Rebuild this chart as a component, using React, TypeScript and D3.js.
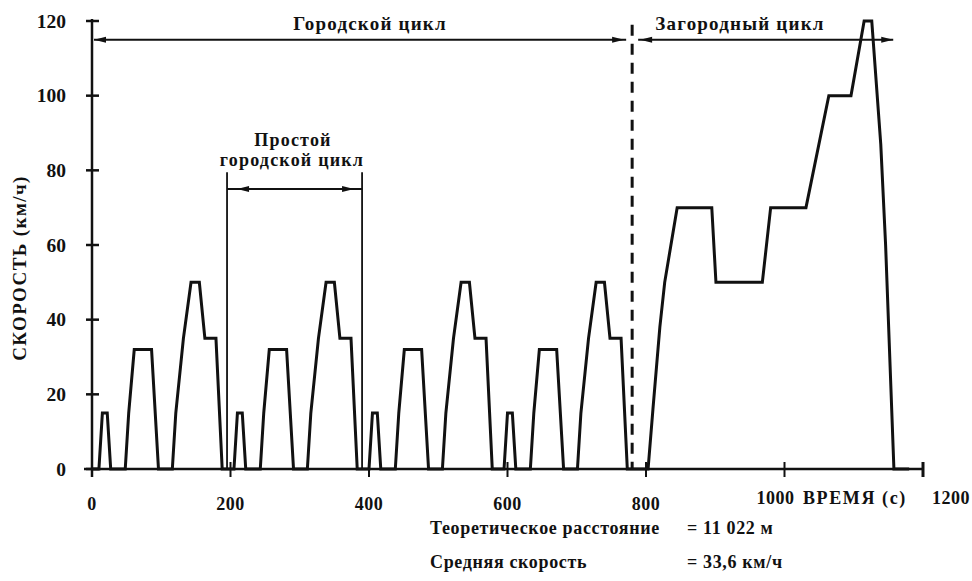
import React from 'react'
import * as d3 from 'd3'

// one urban (ECE-15) cycle: seconds from the cycle start, speed in km/h
const urbanTime = [0, 10, 15, 22, 27, 48, 53, 61, 86, 96, 116, 121, 132, 143, 155, 163, 179, 188, 195]
const urbanSpeed = [0, 0, 15, 15, 0, 0, 15, 32, 32, 0, 0, 15, 35, 50, 50, 35, 35, 0, 0]
const urbanStarts = [0, 195, 390, 585]

// extra-urban part
const extraTime = [780, 803, 810, 820, 827, 845, 895, 901, 968, 980, 1031, 1064, 1096, 1115, 1126, 1139, 1146, 1158, 1180]
const extraSpeed = [0, 0, 16, 38, 50, 70, 70, 50, 50, 70, 70, 100, 100, 120, 120, 87, 60, 0, 0]

const xTicks = [0, 200, 400, 600, 800, 1000, 1200]
const xTickLabels = ['0', '200', '400', '600', '800']
const yTicks = [0, 20, 40, 60, 80, 100, 120]

// annotation values
const cycleSplit = 780
const simpleCycle = [195, 390]
const bracketSpeed = 115
const simpleBracketSpeed = 75

const W = 972
const H = 581
const font = "'Liberation Serif', 'Times New Roman', serif"

const x = d3.scaleLinear().domain([0, 1200]).range([92, 923])
const y = d3.scaleLinear().domain([0, 120]).range([469, 21])

type Pt = [number, number]

const points: Pt[] = []
urbanStarts.forEach(start => {
  urbanTime.forEach((t, i) => points.push([start + t, urbanSpeed[i]]))
})
extraTime.forEach((t, i) => points.push([t, extraSpeed[i]]))

const line = d3.line<Pt>().x(d => x(d[0])).y(d => y(d[1]))

// small filled arrowhead, tip at (tx, ty), dir = 1 points right, -1 left
const head = (tx: number, ty: number, dir: number) => {
  const b = tx - dir * 12
  return `${tx},${ty} ${b},${ty - 3} ${b},${ty + 3}`
}

const App = () => {
  const yTop = y(bracketSpeed)
  const ySimple = y(simpleBracketSpeed)
  const xs = x(cycleSplit)
  const txt = { fontFamily: font, fontWeight: 700, fill: '#111' } as const

  return (
    <svg width={W} height={H} style={{ position: 'absolute', left: 0, top: 0, background: '#fff' }}>
      {/* axes */}
      <g stroke='#111' strokeWidth={2.5} fill='none'>
        <line x1={x(0)} x2={x(0)} y1={y(120) - 2} y2={y(0) + 8} />
        <line x1={x(0) - 8} x2={x(1200)} y1={y(0)} y2={y(0)} />
        {yTicks.map(v => (
          <line key={`yt${v}`} x1={x(0) - 6} x2={x(0) + 7} y1={y(v)} y2={y(v)} />
        ))}
        {xTicks.map(v => (
          <line key={`xt${v}`} x1={x(v)} x2={x(v)} y1={y(0) - 7} y2={y(0) + 8}
            strokeWidth={v === 1200 ? 3 : 2} />
        ))}
      </g>

      {yTicks.map(v => (
        <text key={`yl${v}`} x={66} y={y(v)} dy='0.35em' textAnchor='end'
          fontSize={19.5} {...txt}>{v}</text>
      ))}
      {xTickLabels.map((l, i) => (
        <text key={`xl${l}`} x={x(xTicks[i])} y={510} textAnchor='middle'
          fontSize={18} letterSpacing={0.5} {...txt}>{l}</text>
      ))}
      <text x={x(1000) - 9} y={504} textAnchor='middle' fontSize={18} letterSpacing={0.5} {...txt}>1000</text>
      <text x={803} y={504} fontSize={18} letterSpacing={1.6} {...txt}>ВРЕМЯ (с)</text>
      <text x={970} y={504} textAnchor='end' fontSize={18} letterSpacing={0.5} {...txt}>1200</text>
      <text transform={`translate(19, 268) rotate(-90)`} textAnchor='middle' dy='0.35em'
        fontSize={19} letterSpacing={1.4} {...txt}>СКОРОСТЬ (км/ч)</text>

      {/* cycle split */}
      <line x1={xs} x2={xs} y1={y(119)} y2={y(0)} stroke='#111' strokeWidth={3}
        strokeDasharray='11 8' />

      {/* urban / extra-urban arrows */}
      <g stroke='#111' strokeWidth={2}>
        <line x1={x(0) + 2} x2={xs - 6} y1={yTop} y2={yTop} />
        <line x1={xs + 6} x2={x(1157)} y1={yTop} y2={yTop} />
      </g>
      <g fill='#111'>
        <polygon points={head(x(0) + 2, yTop, -1)} />
        <polygon points={head(xs - 8, yTop, 1)} />
        <polygon points={head(xs + 8, yTop, -1)} />
        <polygon points={head(x(1157), yTop, 1)} />
      </g>
      <text x={370} y={30} textAnchor='middle' fontSize={19} letterSpacing={1.2} {...txt}>
        Городской цикл
      </text>
      <text x={740} y={30} textAnchor='middle' fontSize={19} letterSpacing={1.2} {...txt}>
        Загородный цикл
      </text>

      {/* simple urban cycle bracket */}
      <g stroke='#111' strokeWidth={1.8}>
        <line x1={x(simpleCycle[0])} x2={x(simpleCycle[0])} y1={y(79.5)} y2={y(0)} />
        <line x1={x(simpleCycle[1])} x2={x(simpleCycle[1])} y1={y(79.5)} y2={y(0)} />
        <line x1={x(simpleCycle[0])} x2={x(simpleCycle[1])} y1={ySimple} y2={ySimple} />
      </g>
      <g fill='#111'>
        <polygon points={head(x(simpleCycle[0]) + 10, ySimple, -1)} />
        <polygon points={head(x(simpleCycle[1]) - 8, ySimple, 1)} />
      </g>
      <text x={293} y={146} textAnchor='middle' fontSize={18} letterSpacing={1.2} {...txt}>Простой</text>
      <text x={292} y={166} textAnchor='middle' fontSize={18} letterSpacing={1.2} {...txt}>городской цикл</text>

      {/* speed trace */}
      <path d={line(points) ?? ''} fill='none' stroke='#111' strokeWidth={3}
        strokeLinejoin='miter' />

      {/* summary */}
      <g fontSize={18} letterSpacing={0.65}>
        <text x={430} y={534} {...txt}>Теоретическое расстояние</text>
        <text x={687} y={534} {...txt}>= 11 022 м</text>
        <text x={430} y={568} {...txt}>Средняя скорость</text>
        <text x={687} y={568} {...txt}>= 33,6 км/ч</text>
      </g>
    </svg>
  )
}

export default App
